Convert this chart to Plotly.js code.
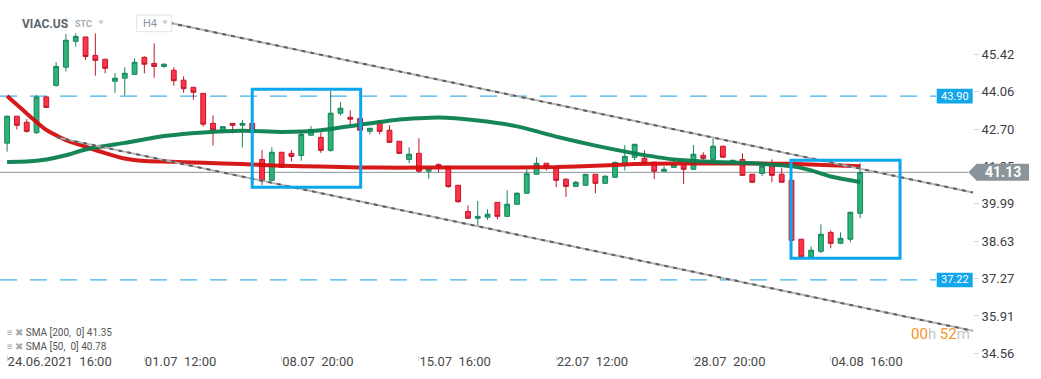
<!DOCTYPE html>
<html><head><meta charset="utf-8">
<script src="https://cdn.plot.ly/plotly-3.0.1.min.js"></script>
<style>html,body{margin:0;padding:0;background:#fff;}#chart{width:1041px;height:379px;}</style>
</head><body><div id="chart"></div>
<script>
// ---- data ----
const open = [42.19,43.17,42.95,42.57,43.87,44.29,44.95,45.89,46.05,45.38,
  45.24,44.44,44.55,44.69,45.31,45.09,44.98,44.84,44.48,44.22,
  44.00,42.91,42.64,42.91,42.84,42.91,41.60,40.84,41.86,41.82,
  41.74,42.48,42.40,41.93,43.28,43.13,43.09,42.62,42.99,42.66,
  42.26,41.60,41.82,41.17,41.41,41.35,40.66,39.71,39.46,39.50,
  40.04,39.53,39.97,40.37,41.06,41.46,41.31,40.88,40.62,40.66,
  41.06,40.73,40.95,41.46,41.68,41.64,41.50,41.17,41.31,41.42,
  41.24,41.75,41.60,42.08,41.42,41.60,41.06,41.09,41.35,41.06,
  40.84,38.70,38.06,38.26,38.95,38.55,38.70,39.64];
const high = [43.19,43.17,43.06,43.94,43.91,45.13,46.16,46.18,46.05,46.18,
  45.25,44.73,44.95,45.27,45.35,45.82,45.09,44.95,44.62,44.22,
  44.00,43.20,42.80,42.92,43.03,42.92,41.94,42.04,41.87,41.94,
  42.61,42.81,42.58,44.09,43.68,43.38,43.10,42.74,43.00,42.84,
  42.27,42.04,42.37,41.29,41.46,41.36,40.67,39.93,40.09,39.79,
  40.05,40.48,40.41,41.24,41.68,41.47,41.32,40.91,40.82,41.07,
  41.07,41.02,41.53,42.12,42.16,41.93,41.51,41.35,41.64,41.43,
  42.12,41.86,42.37,42.09,41.58,41.82,41.07,41.36,41.60,41.28,
  40.85,38.71,38.44,39.24,39.02,38.95,39.69,41.46];
const low = [41.88,42.69,42.57,42.53,43.47,44.24,44.79,45.70,45.21,44.64,
  44.73,44.02,43.92,44.69,44.73,44.57,44.93,44.28,44.02,43.77,
  42.79,42.10,42.55,42.55,42.03,42.67,40.66,40.82,41.31,41.53,
  41.55,42.47,41.84,41.88,43.19,42.84,42.65,42.51,42.51,42.21,
  41.79,41.46,41.12,40.90,41.12,40.57,40.03,39.45,39.18,39.40,
  39.42,39.52,39.96,40.36,41.05,41.20,40.59,40.24,40.60,40.63,
  40.37,40.71,40.92,41.20,41.57,41.45,40.88,41.16,41.31,40.70,
  41.23,41.58,41.60,41.67,41.42,41.02,40.76,40.99,40.77,40.76,
  38.65,38.05,38.05,38.19,38.37,38.52,38.59,39.46];
const close = [43.17,42.84,42.62,43.87,43.49,44.98,45.93,46.07,45.34,45.20,
  44.91,44.55,44.73,45.13,45.06,44.98,45.06,44.46,44.17,44.04,
  42.88,42.67,42.79,42.84,42.91,42.68,40.83,41.86,41.31,41.71,
  42.51,42.69,41.93,43.28,43.46,43.06,42.66,42.73,42.62,42.22,
  41.82,41.79,41.17,41.28,41.34,40.61,40.06,39.46,39.53,39.61,
  39.53,39.97,40.37,41.08,41.46,41.34,40.84,40.62,40.77,41.06,
  40.73,40.99,41.49,41.71,42.15,41.46,41.17,41.24,41.42,41.24,
  41.79,41.64,42.08,41.68,41.57,41.02,40.77,41.35,41.02,40.77,
  38.66,38.06,38.30,38.88,38.55,38.73,39.68,41.13];

const sma200Idx = [0,2,4,6,8,10,12,14,16,20,24,28,32,36,40,44,48,52,56,60,64,68,72,76,80,84,87];
const sma200Val = [43.90,43.27,42.67,42.30,42.06,41.83,41.63,41.54,41.52,41.48,41.43,41.37,41.34,41.31,41.30,41.31,41.31,41.31,41.32,41.37,41.43,41.45,41.45,41.45,41.44,41.39,41.35];
const sma50Idx = [0,2,4,6,8,12,16,20,24,28,32,36,40,44,48,52,56,60,64,68,72,76,78,80,82,84,87];
const sma50Val = [41.51,41.52,41.60,41.75,41.96,42.20,42.45,42.58,42.64,42.60,42.66,42.86,43.05,43.12,43.01,42.80,42.43,42.10,41.82,41.60,41.51,41.46,41.41,41.36,41.20,40.98,40.78];

const xTickVals = [0,14,28,42,56,70,84];
const xTickText = ['24.06.2021\u00a0\u00a016:00','01.07\u00a0\u00a012:00','08.07\u00a0\u00a020:00','15.07\u00a0\u00a016:00','22.07\u00a0\u00a012:00','28.07\u00a0\u00a020:00','04.08\u00a0\u00a016:00'];
const yTickVals = [45.42,44.06,42.70,41.35,39.99,38.63,37.27,35.91,34.56];

const lastPrice = 41.13;
const levels = [43.90, 37.22];
const trendUpper = {x: [14.75, 98.5], y: [46.70, 40.40]};
const trendLower = {x: [5.06, 98.5], y: [42.40, 35.37]};
const boxes = [{x0: 25.0, x1: 36.06, y0: 40.59, y1: 44.15}, {x0: 79.95, x1: 91.07, y0: 38.01, y1: 41.57}];
const smaLegend = ['SMA [200,\u00a0 0] 41.35', 'SMA [50,\u00a0 0] 40.78'];

const idx = open.map((_, i) => i);

const traces = [
  {type: 'candlestick', x: idx, open: open, high: high, low: low, close: close,
   increasing: {line: {color: '#17855a', width: 1}, fillcolor: '#2db377'},
   decreasing: {line: {color: '#c0182b', width: 1}, fillcolor: '#ff3349'},
   whiskerwidth: 0, hoverinfo: 'skip'},
  {type: 'scatter', mode: 'lines', x: sma200Idx, y: sma200Val,
   line: {color: '#d40d0d', width: 4, shape: 'spline', smoothing: 0.5}, hoverinfo: 'skip', opacity: 0.95},
  {type: 'scatter', mode: 'lines', x: sma50Idx, y: sma50Val,
   line: {color: '#0a7f4f', width: 4, shape: 'spline', smoothing: 0.5}, hoverinfo: 'skip', opacity: 0.95}
];

const W = 973, H = 355;
const px = v => v / W, py = v => 1 - v / H;

const shapes = [];
shapes.push({type: 'line', layer: 'below', xref: 'paper', yref: 'y', x0: 0, x1: px(968), y0: lastPrice, y1: lastPrice, line: {color: '#8b959a', width: 1}});
levels.forEach(l => {
  shapes.push({type: 'line', layer: 'below', xref: 'paper', yref: 'y', x0: 0, x1: px(936), y0: l, y1: l, line: {color: '#45b1e8', width: 1.3, dash: '17px,13px'}});
  shapes.push({type: 'rect', xref: 'paper', yref: 'y', x0: px(936.7), x1: px(972.7), y0: l - 0.265, y1: l + 0.265, fillcolor: '#12a6ea', line: {width: 0}});
});
[trendUpper, trendLower].forEach(t => {
  shapes.push({type: 'line', xref: 'x', yref: 'y', x0: t.x[0], x1: t.x[1], y0: t.y[0], y1: t.y[1], line: {color: '#b5b5b5', width: 2}});
  shapes.push({type: 'line', xref: 'x', yref: 'y', x0: t.x[0], x1: t.x[1], y0: t.y[0], y1: t.y[1], line: {color: '#5e5e5e', width: 2, dash: '4px,5px'}});
});
boxes.forEach(b => shapes.push({type: 'rect', xref: 'x', yref: 'y', x0: b.x0, x1: b.x1, y0: b.y0, y1: b.y1, line: {color: '#0aa6ee', width: 3}, fillcolor: 'rgba(0,0,0,0)'}));
shapes.push({type: 'path', xref: 'paper', yref: 'y', fillcolor: '#8a9499', line: {width: 0},
  path: `M ${px(968.3)},${lastPrice} L ${px(976.7)},${lastPrice + 0.31} L ${px(1029)},${lastPrice + 0.31} L ${px(1029)},${lastPrice - 0.31} L ${px(976.7)},${lastPrice - 0.31} Z`});
shapes.push({type: 'line', xref: 'paper', yref: 'paper', x0: px(66), x1: px(66), y0: py(16), y1: py(31), line: {color: '#e2e2e2', width: 1}});
shapes.push({type: 'rect', xref: 'paper', yref: 'paper', x0: px(136.7), x1: px(171.7), y0: py(31.7), y1: py(15), line: {color: '#e3e3e3', width: 1}, fillcolor: '#ffffff'});

const F = 'Roboto, "Open Sans", sans-serif';
const annotations = [
  {xref: 'paper', yref: 'paper', x: px(20), y: py(23.5), xanchor: 'left', yanchor: 'middle', showarrow: false, text: '<b>VIAC.US</b>', font: {family: F, size: 12, color: '#5a646c'}},
  {xref: 'paper', yref: 'paper', x: px(73), y: py(24), xanchor: 'left', yanchor: 'middle', showarrow: false, text: '<b>STC</b>', font: {family: F, size: 9, color: '#a5adb3'}},
  {xref: 'paper', yref: 'paper', x: px(95), y: py(22), xanchor: 'left', yanchor: 'middle', showarrow: false, text: '▼', font: {family: F, size: 8, color: '#c6cbcf'}},
  {xref: 'paper', yref: 'paper', x: px(141), y: py(23.5), xanchor: 'left', yanchor: 'middle', showarrow: false, text: 'H4', font: {family: F, size: 11, color: '#8a939a'}},
  {xref: 'paper', yref: 'paper', x: px(159), y: py(22), xanchor: 'left', yanchor: 'middle', showarrow: false, text: '▼', font: {family: F, size: 8, color: '#c6cbcf'}},
  {xref: 'paper', yref: 'paper', x: px(5), y: py(332.7), xanchor: 'left', yanchor: 'middle', showarrow: false, text: '<span style="color:#a9a9a9">≡ ✖</span> ' + smaLegend[0], font: {family: F, size: 10, color: '#555'}},
  {xref: 'paper', yref: 'paper', x: px(5), y: py(346), xanchor: 'left', yanchor: 'middle', showarrow: false, text: '<span style="color:#a9a9a9">≡ ✖</span> ' + smaLegend[1], font: {family: F, size: 10, color: '#555'}},
  {xref: 'paper', yref: 'paper', x: px(972), y: py(333.5), xanchor: 'right', yanchor: 'middle', showarrow: false,
   text: '<span style="color:#f7931e">00</span><span style="color:#c6c6c6">h </span><span style="color:#f7931e">52</span><span style="color:#c6c6c6">m</span>', font: {family: F, size: 15}},
  {xref: 'paper', yref: 'y', x: px(1003), y: lastPrice, xanchor: 'center', yanchor: 'middle', showarrow: false, text: '<b>' + lastPrice.toFixed(2) + '</b>', font: {family: F, size: 14, color: '#ffffff'}}
];
levels.forEach(l => annotations.push({xref: 'paper', yref: 'y', x: px(954.7), y: l, xanchor: 'center', yanchor: 'middle', showarrow: false, text: l.toFixed(2), font: {family: F, size: 11, color: '#ffffff'}}));

const layout = {
  width: 1041, height: 379,
  margin: {l: 0, r: 68, t: 0, b: 24, pad: 0},
  paper_bgcolor: '#ffffff', plot_bgcolor: '#ffffff',
  showlegend: false, dragmode: false,
  xaxis: {range: [-0.724, 98.51], showgrid: false, zeroline: false, showline: false,
    tickmode: 'array', tickvals: xTickVals, ticktext: xTickText,
    ticks: 'outside', ticklen: 5, tickcolor: '#d5d5d5', tickwidth: 1,
    ticklabelposition: 'outside right', ticklabelstandoff: -6,
    tickfont: {family: F, size: 13, color: '#4a4a4a'},
    rangeslider: {visible: false}, fixedrange: true},
  yaxis: {side: 'right', range: [34.492, 47.393], showgrid: false, zeroline: false, showline: false,
    tickmode: 'array', tickvals: yTickVals, ticktext: yTickVals.map(v => v.toFixed(2)),
    ticks: 'outside', ticklen: 5, tickcolor: '#d5d5d5', tickwidth: 1,
    tickfont: {family: F, size: 13, color: '#3c4043'}, fixedrange: true},
  shapes: shapes,
  annotations: annotations,
  font: {family: F}
};

Plotly.newPlot('chart', traces, layout, {staticPlot: true, displayModeBar: false});
</script></body></html>
